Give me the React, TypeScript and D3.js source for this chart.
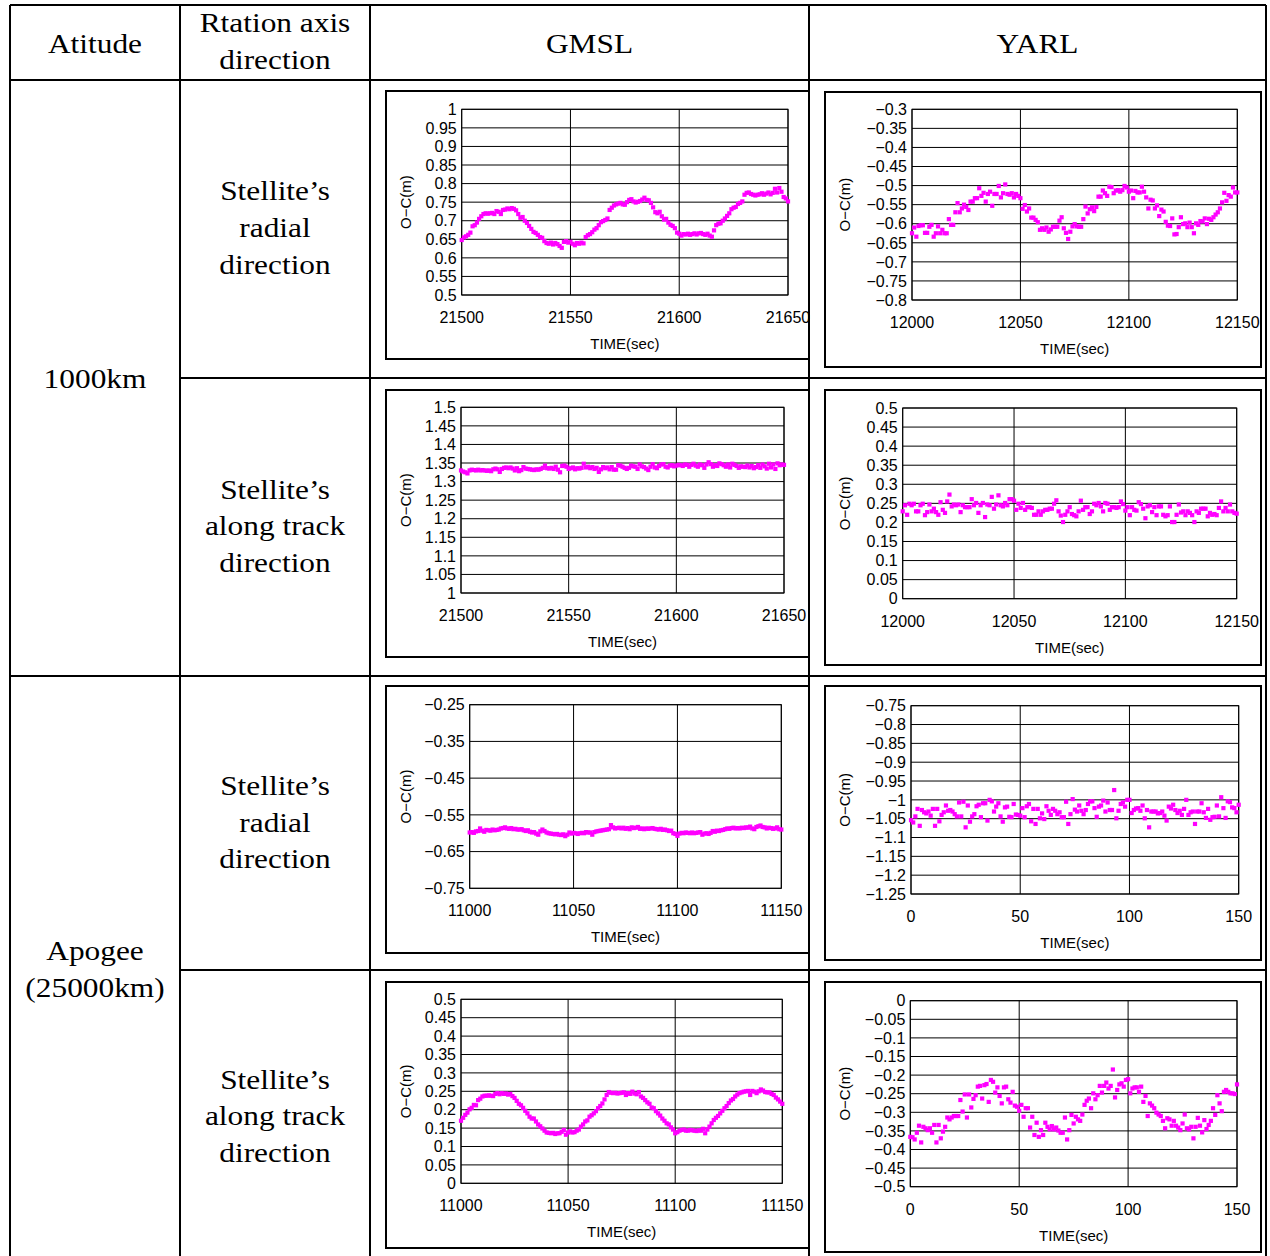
import React from "react";
import * as d3 from "d3";

// ---------- DATA ----------
const gmslRadial1000 = [
  0.648, 0.655, 0.658, 0.662, 0.668, 0.685, 0.688, 0.695, 0.705, 0.712,
  0.718, 0.720, 0.719, 0.720, 0.721, 0.718, 0.726, 0.724, 0.718, 0.729,
  0.730, 0.733, 0.731, 0.734, 0.732, 0.728, 0.718, 0.708, 0.710, 0.700,
  0.694, 0.686, 0.678, 0.670, 0.667, 0.662, 0.656, 0.654, 0.645, 0.640,
  0.638, 0.641, 0.636, 0.640, 0.637, 0.632, 0.627, 0.643, 0.645, 0.641,
  0.643, 0.638, 0.634, 0.640, 0.638, 0.641, 0.639, 0.656, 0.661, 0.664,
  0.669, 0.676, 0.680, 0.688, 0.696, 0.699, 0.702, 0.706, 0.729, 0.735,
  0.741, 0.744, 0.746, 0.748, 0.744, 0.743, 0.750, 0.756, 0.758, 0.752,
  0.749, 0.751, 0.753, 0.757, 0.762, 0.756, 0.755, 0.748, 0.736, 0.723,
  0.720, 0.724, 0.712, 0.703, 0.705, 0.695, 0.689, 0.686, 0.680, 0.668,
  0.665, 0.660, 0.664, 0.663, 0.665, 0.662, 0.664, 0.666, 0.663, 0.666,
  0.667, 0.664, 0.662, 0.665, 0.660, 0.657, 0.674, 0.688, 0.692, 0.693,
  0.700, 0.706, 0.713, 0.720, 0.731, 0.735, 0.737, 0.745, 0.748, 0.752,
  0.770, 0.775, 0.776, 0.772, 0.770, 0.768, 0.770, 0.771, 0.774, 0.770,
  0.773, 0.776, 0.771, 0.775, 0.786, 0.776, 0.788, 0.778, 0.764, 0.760,
  0.752,
];

const yarlRadial1000 = [
  -0.625, -0.610, -0.634, -0.606, -0.604, -0.604, -0.624, -0.624, -0.608, -0.603,
  -0.634, -0.625, -0.607, -0.625, -0.616, -0.625, -0.625, -0.588, -0.603, -0.603,
  -0.570, -0.546, -0.570, -0.560, -0.550, -0.556, -0.564, -0.542, -0.542, -0.533,
  -0.533, -0.507, -0.527, -0.519, -0.542, -0.522, -0.516, -0.553, -0.522, -0.522,
  -0.501, -0.531, -0.520, -0.497, -0.522, -0.524, -0.520, -0.531, -0.522, -0.527,
  -0.533, -0.561, -0.551, -0.568, -0.560, -0.584, -0.584, -0.590, -0.596, -0.616,
  -0.612, -0.616, -0.610, -0.621, -0.615, -0.608, -0.608, -0.608, -0.592, -0.583,
  -0.612, -0.624, -0.640, -0.621, -0.607, -0.601, -0.607, -0.608, -0.608, -0.588,
  -0.555, -0.573, -0.562, -0.557, -0.567, -0.556, -0.529, -0.529, -0.513, -0.520,
  -0.527, -0.503, -0.504, -0.520, -0.513, -0.512, -0.516, -0.512, -0.501, -0.505,
  -0.516, -0.513, -0.533, -0.514, -0.518, -0.518, -0.503, -0.516, -0.531, -0.560,
  -0.537, -0.539, -0.560, -0.552, -0.580, -0.563, -0.568, -0.595, -0.605, -0.606,
  -0.586, -0.628, -0.627, -0.609, -0.583, -0.601, -0.599, -0.609, -0.597, -0.609,
  -0.625, -0.599, -0.603, -0.593, -0.594, -0.586, -0.601, -0.587, -0.590, -0.583,
  -0.576, -0.570, -0.560, -0.544, -0.519, -0.540, -0.525, -0.529, -0.505, -0.518,
  -0.518,
];

const gmslAlong1000 = [
  1.330, 1.327, 1.325, 1.322, 1.330, 1.332, 1.331, 1.330, 1.332, 1.330,
  1.331, 1.330, 1.329, 1.330, 1.328, 1.333, 1.335, 1.333, 1.326, 1.334,
  1.337, 1.338, 1.336, 1.338, 1.335, 1.330, 1.336, 1.328, 1.331, 1.339,
  1.335, 1.334, 1.333, 1.332, 1.331, 1.333, 1.332, 1.334, 1.337, 1.343,
  1.336, 1.335, 1.337, 1.334, 1.340, 1.332, 1.325, 1.342, 1.343, 1.340,
  1.334, 1.336, 1.338, 1.333, 1.336, 1.335, 1.337, 1.348, 1.338, 1.340,
  1.336, 1.339, 1.334, 1.337, 1.326, 1.333, 1.339, 1.336, 1.338, 1.333,
  1.339, 1.332, 1.332, 1.344, 1.343, 1.340, 1.337, 1.334, 1.337, 1.343,
  1.341, 1.340, 1.334, 1.346, 1.341, 1.339, 1.335, 1.331, 1.340, 1.347,
  1.338, 1.336, 1.342, 1.346, 1.347, 1.340, 1.338, 1.343, 1.344, 1.341,
  1.343, 1.345, 1.344, 1.342, 1.346, 1.345, 1.340, 1.345, 1.348, 1.343,
  1.340, 1.346, 1.344, 1.337, 1.346, 1.352, 1.347, 1.340, 1.344, 1.342,
  1.349, 1.347, 1.344, 1.340, 1.346, 1.338, 1.348, 1.345, 1.342, 1.337,
  1.341, 1.340, 1.339, 1.343, 1.338, 1.342, 1.336, 1.339, 1.344, 1.337,
  1.346, 1.341, 1.335, 1.348, 1.338, 1.346, 1.334, 1.349, 1.344, 1.346,
  1.345,
];

const yarlAlong1000 = [
  0.229, 0.245, 0.220, 0.249, 0.245, 0.249, 0.229, 0.229, 0.245, 0.249,
  0.219, 0.227, 0.247, 0.229, 0.236, 0.227, 0.220, 0.253, 0.233, 0.225,
  0.255, 0.273, 0.242, 0.247, 0.245, 0.247, 0.227, 0.245, 0.240, 0.240,
  0.240, 0.261, 0.245, 0.251, 0.225, 0.245, 0.251, 0.214, 0.247, 0.245,
  0.267, 0.236, 0.247, 0.271, 0.245, 0.242, 0.251, 0.245, 0.261, 0.261,
  0.257, 0.233, 0.249, 0.238, 0.251, 0.233, 0.240, 0.240, 0.238, 0.220,
  0.220, 0.229, 0.220, 0.229, 0.233, 0.233, 0.236, 0.236, 0.249, 0.258,
  0.229, 0.218, 0.201, 0.220, 0.229, 0.240, 0.222, 0.219, 0.216, 0.229,
  0.257, 0.233, 0.240, 0.240, 0.222, 0.229, 0.249, 0.245, 0.251, 0.242,
  0.229, 0.251, 0.249, 0.233, 0.240, 0.240, 0.238, 0.240, 0.255, 0.248,
  0.231, 0.240, 0.219, 0.240, 0.233, 0.231, 0.253, 0.248, 0.236, 0.211,
  0.242, 0.245, 0.227, 0.240, 0.219, 0.242, 0.242, 0.220, 0.216, 0.219,
  0.242, 0.201, 0.201, 0.220, 0.247, 0.226, 0.229, 0.219, 0.229, 0.225,
  0.219, 0.201, 0.229, 0.225, 0.236, 0.236, 0.236, 0.216, 0.225, 0.220,
  0.222, 0.219, 0.238, 0.255, 0.229, 0.238, 0.229, 0.247, 0.229, 0.225,
  0.223,
];

const gmslRadialApogee = [
  -0.598, -0.597, -0.599, -0.595, -0.594, -0.587, -0.593, -0.596, -0.591, -0.592,
  -0.593, -0.590, -0.592, -0.591, -0.590, -0.587, -0.586, -0.584, -0.587, -0.588,
  -0.586, -0.589, -0.588, -0.590, -0.590, -0.589, -0.592, -0.594, -0.592, -0.596,
  -0.598, -0.597, -0.601, -0.604, -0.595, -0.590, -0.594, -0.598, -0.600, -0.601,
  -0.602, -0.603, -0.602, -0.604, -0.605, -0.603, -0.608, -0.604, -0.598, -0.601,
  -0.599, -0.600, -0.602, -0.600, -0.599, -0.600, -0.597, -0.598, -0.598, -0.604,
  -0.597, -0.595, -0.594, -0.593, -0.592, -0.591, -0.590, -0.589, -0.578, -0.584,
  -0.587, -0.586, -0.585, -0.587, -0.585, -0.588, -0.586, -0.589, -0.584, -0.586,
  -0.585, -0.583, -0.588, -0.587, -0.589, -0.587, -0.588, -0.587, -0.586, -0.588,
  -0.589, -0.590, -0.588, -0.591, -0.590, -0.592, -0.594, -0.593, -0.600, -0.602,
  -0.607, -0.601, -0.599, -0.600, -0.598, -0.599, -0.600, -0.598, -0.600, -0.599,
  -0.598, -0.597, -0.604, -0.601, -0.600, -0.602, -0.599, -0.594, -0.596, -0.593,
  -0.594, -0.592, -0.591, -0.589, -0.587, -0.588, -0.586, -0.585, -0.587, -0.586,
  -0.587, -0.585, -0.586, -0.584, -0.585, -0.582, -0.587, -0.589, -0.583, -0.581,
  -0.579, -0.583, -0.584, -0.587, -0.585, -0.586, -0.588, -0.587, -0.584, -0.589,
  -0.590,
];

const yarlRadialApogee = [
  -1.054, -1.060, -1.044, -1.024, -1.069, -1.027, -1.033, -1.036, -1.031, -1.042,
  -1.024, -1.069, -1.024, -1.057, -1.040, -1.033, -1.015, -1.029, -1.027, -1.031,
  -1.038, -1.044, -1.007, -1.044, -1.005, -1.073, -1.015, -1.058, -1.044, -1.038,
  -1.017, -1.013, -1.046, -1.009, -1.009, -1.055, -1.000, -1.004, -1.031, -1.018,
  -1.009, -1.044, -1.058, -1.020, -1.018, -1.045, -1.046, -1.011, -1.039, -1.040,
  -1.042, -1.022, -1.046, -1.017, -1.011, -1.057, -1.024, -1.064, -1.024, -1.049,
  -1.036, -1.051, -1.017, -1.029, -1.040, -1.024, -1.029, -1.038, -1.033, -1.046,
  -1.046, -1.005, -1.064, -1.038, -0.998, -1.026, -1.031, -1.015, -1.029, -1.038,
  -1.027, -1.011, -1.004, -1.004, -1.022, -1.045, -1.018, -1.015, -1.002, -1.031,
  -1.007, -1.027, -1.027, -0.974, -1.049, -1.029, -1.011, -1.007, -1.018, -1.000,
  -1.000, -1.035, -1.027, -1.023, -1.022, -1.029, -1.015, -1.049, -1.027, -1.073,
  -1.031, -1.031, -1.031, -1.036, -1.035, -1.031, -1.042, -1.055, -1.018, -1.023,
  -1.013, -1.027, -1.035, -1.029, -1.040, -1.024, -1.000, -1.040, -1.033, -1.031,
  -1.064, -1.031, -1.031, -1.009, -1.033, -1.048, -1.024, -1.053, -1.046, -1.045,
  -1.015, -1.044, -0.993, -1.022, -1.048, -1.004, -1.006, -1.020, -1.022, -1.033,
  -1.013,
];

const gmslAlongApogee = [
  0.170, 0.178, 0.186, 0.192, 0.201, 0.205, 0.213, 0.212, 0.226, 0.230,
  0.236, 0.238, 0.238, 0.239, 0.238, 0.237, 0.243, 0.245, 0.242, 0.245,
  0.243, 0.244, 0.241, 0.243, 0.237, 0.232, 0.224, 0.216, 0.212, 0.205,
  0.197, 0.190, 0.181, 0.176, 0.176, 0.168, 0.160, 0.155, 0.149, 0.143,
  0.138, 0.137, 0.136, 0.137, 0.134, 0.136, 0.136, 0.140, 0.145, 0.132,
  0.138, 0.141, 0.138, 0.139, 0.143, 0.146, 0.154, 0.160, 0.168, 0.171,
  0.181, 0.185, 0.190, 0.196, 0.204, 0.210, 0.217, 0.228, 0.240, 0.248,
  0.246, 0.245, 0.246, 0.244, 0.245, 0.246, 0.247, 0.240, 0.245, 0.243,
  0.249, 0.244, 0.242, 0.248, 0.236, 0.232, 0.226, 0.220, 0.216, 0.206,
  0.204, 0.196, 0.190, 0.184, 0.176, 0.170, 0.163, 0.160, 0.152, 0.146,
  0.136, 0.139, 0.143, 0.145, 0.146, 0.143, 0.143, 0.145, 0.144, 0.143,
  0.142, 0.144, 0.143, 0.148, 0.136, 0.146, 0.154, 0.163, 0.172, 0.178,
  0.183, 0.190, 0.197, 0.204, 0.210, 0.218, 0.225, 0.229, 0.236, 0.241,
  0.245, 0.247, 0.249, 0.250, 0.251, 0.240, 0.251, 0.249, 0.245, 0.250,
  0.255, 0.252, 0.248, 0.247, 0.247, 0.243, 0.240, 0.233, 0.228, 0.222,
  0.216,
];

const yarlAlongApogee = [
  -0.366, -0.367, -0.373, -0.355, -0.336, -0.381, -0.339, -0.343, -0.348, -0.343,
  -0.355, -0.334, -0.381, -0.334, -0.370, -0.352, -0.339, -0.314, -0.319, -0.314,
  -0.310, -0.310, -0.310, -0.267, -0.298, -0.252, -0.314, -0.252, -0.287, -0.264,
  -0.254, -0.231, -0.229, -0.263, -0.227, -0.224, -0.272, -0.213, -0.218, -0.247,
  -0.233, -0.256, -0.276, -0.233, -0.231, -0.265, -0.274, -0.245, -0.282, -0.285,
  -0.296, -0.280, -0.312, -0.289, -0.289, -0.341, -0.312, -0.361, -0.328, -0.366,
  -0.348, -0.361, -0.328, -0.339, -0.346, -0.337, -0.346, -0.341, -0.349, -0.355,
  -0.355, -0.314, -0.373, -0.348, -0.307, -0.330, -0.312, -0.319, -0.323, -0.306,
  -0.280, -0.269, -0.263, -0.289, -0.249, -0.265, -0.254, -0.229, -0.247, -0.229,
  -0.220, -0.236, -0.229, -0.185, -0.260, -0.240, -0.225, -0.222, -0.231, -0.213,
  -0.211, -0.249, -0.236, -0.233, -0.233, -0.245, -0.231, -0.272, -0.256, -0.310,
  -0.276, -0.282, -0.289, -0.301, -0.306, -0.310, -0.323, -0.343, -0.316, -0.319,
  -0.336, -0.323, -0.336, -0.341, -0.348, -0.330, -0.306, -0.343, -0.346, -0.339,
  -0.370, -0.339, -0.315, -0.336, -0.354, -0.321, -0.345, -0.334, -0.323, -0.289,
  -0.307, -0.254, -0.276, -0.297, -0.245, -0.240, -0.245, -0.249, -0.249, -0.251,
  -0.225,
];

// tick labels
const xTicks21500 = [21500, 21550, 21600, 21650];
const xTicks12000 = [12000, 12050, 12100, 12150];
const xTicks11000 = [11000, 11050, 11100, 11150];
const xTicks0 = [0, 50, 100, 150];
const yTicksGR1 = [0.5, 0.55, 0.6, 0.65, 0.7, 0.75, 0.8, 0.85, 0.9, 0.95, 1];
const yTicksYR1 = [-0.8, -0.75, -0.7, -0.65, -0.6, -0.55, -0.5, -0.45, -0.4, -0.35, -0.3];
const yTicksGA1 = [1, 1.05, 1.1, 1.15, 1.2, 1.25, 1.3, 1.35, 1.4, 1.45, 1.5];
const yTicksYA1 = [0, 0.05, 0.1, 0.15, 0.2, 0.25, 0.3, 0.35, 0.4, 0.45, 0.5];
const yTicksGR2 = [-0.75, -0.65, -0.55, -0.45, -0.35, -0.25];
const yTicksYR2 = [-1.25, -1.2, -1.15, -1.1, -1.05, -1, -0.95, -0.9, -0.85, -0.8, -0.75];
const yTicksGA2 = [0, 0.05, 0.1, 0.15, 0.2, 0.25, 0.3, 0.35, 0.4, 0.45, 0.5];
const yTicksYA2 = [-0.5, -0.45, -0.4, -0.35, -0.3, -0.25, -0.2, -0.15, -0.1, -0.05, 0];

const headers = ["Atitude", "GMSL", "YARL"];
const axisHeader = ["Rtation axis", "direction"];
const rowLabels = [
  ["Stellite\u2019s", "radial", "direction"],
  ["Stellite\u2019s", "along track", "direction"],
  ["Stellite\u2019s", "radial", "direction"],
  ["Stellite\u2019s", "along track", "direction"],
];
const altitudes = [["1000km"], ["Apogee", "(25000km)"]];

// ---------- LAYOUT ----------
const charts = [
  { box: [386, 91, 809, 359], plot: [461.7, 109.3, 788, 295], values: gmslRadial1000, x0: 21500, xTicks: xTicks21500, yTicks: yTicksGR1 },
  { box: [825, 92, 1261, 367], plot: [912, 109.3, 1237.3, 300], values: yarlRadial1000, x0: 12000, xTicks: xTicks12000, yTicks: yTicksYR1 },
  { box: [386, 390, 809, 657], plot: [461, 407.3, 784, 593], values: gmslAlong1000, x0: 21500, xTicks: xTicks21500, yTicks: yTicksGA1 },
  { box: [825, 390, 1261, 665], plot: [902.7, 408, 1236.7, 598.7], values: yarlAlong1000, x0: 12000, xTicks: xTicks12000, yTicks: yTicksYA1 },
  { box: [386, 686, 809, 953], plot: [469.7, 704.7, 781.3, 888.3], values: gmslRadialApogee, x0: 11000, xTicks: xTicks11000, yTicks: yTicksGR2 },
  { box: [825, 686, 1261, 960], plot: [911, 705.7, 1238.7, 894], values: yarlRadialApogee, x0: 0, xTicks: xTicks0, yTicks: yTicksYR2 },
  { box: [386, 982, 809, 1248], plot: [461, 999.3, 782.3, 1183.3], values: gmslAlongApogee, x0: 11000, xTicks: xTicks11000, yTicks: yTicksGA2 },
  { box: [825, 982, 1261, 1252], plot: [910.3, 1000.7, 1237, 1186.7], values: yarlAlongApogee, x0: 0, xTicks: xTicks0, yTicks: yTicksYA2 },
];

const SANS = "'Liberation Sans', Arial, sans-serif";
const SERIF = "'Liberation Serif', 'Times New Roman', serif";
const fmt = (v: number) => String(Math.round(v * 1000) / 1000).replace("-", "\u2212");

function Chart({ cfg }: { cfg: any }) {
  const [bx0, by0, bx1, by1] = cfg.box;
  const [pl, pt, pr, pb] = cfg.plot;
  const xt: number[] = cfg.xTicks;
  const yt: number[] = cfg.yTicks;
  const x = d3.scaleLinear().domain([xt[0], xt[xt.length - 1]]).range([pl, pr]);
  const y = d3.scaleLinear().domain([yt[0], yt[yt.length - 1]]).range([pb, pt]);
  const ms = 4.2;
  return (
    <g>
      <rect x={bx0} y={by0} width={bx1 - bx0} height={by1 - by0} fill="#fff" stroke="#000" strokeWidth={2} />
      <rect x={pl} y={pt} width={pr - pl} height={pb - pt} fill="#fff" stroke="#000" strokeWidth={1} />
      {yt.map((v, i) => (
        <line key={"h" + i} x1={pl} x2={pr} y1={y(v)} y2={y(v)} stroke="#000" strokeWidth={1} />
      ))}
      {xt.map((v, i) => (
        <line key={"v" + i} x1={x(v)} x2={x(v)} y1={pt} y2={pb} stroke="#000" strokeWidth={1} />
      ))}
      {yt.map((v, i) => (
        <text key={"yl" + i} x={pl - 5} y={y(v)} dy="0.36em" textAnchor="end" fontFamily={SANS} fontSize={16} fill="#000">
          {fmt(v)}
        </text>
      ))}
      {xt.map((v, i) => (
        <text key={"xl" + i} x={x(v)} y={pb + 28} textAnchor="middle" fontFamily={SANS} fontSize={16} fill="#000">
          {fmt(v)}
        </text>
      ))}
      {cfg.values.map((v: number, i: number) => (
        <rect key={"p" + i} x={x(cfg.x0 + i) - ms / 2} y={y(v) - ms / 2} width={ms} height={ms} fill="#FF00FF" />
      ))}
      <text x={(pl + pr) / 2} y={pb + 54} textAnchor="middle" fontFamily={SANS} fontSize={15} fill="#000">
        TIME(sec)
      </text>
      <text
        transform={`translate(${bx0 + 20},${(pt + pb) / 2}) rotate(-90)`}
        dy="0.36em"
        textAnchor="middle"
        fontFamily={SANS}
        fontSize={15}
        fill="#000"
      >
        O{"\u2212"}C(m)
      </text>
    </g>
  );
}

function T({ x, y, children }: { x: number; y: number; children: any }) {
  return (
    <text transform={`translate(${x},${y}) scale(1.12,1)`} textAnchor="middle" fontFamily={SERIF} fontSize={28} fill="#000">
      {children}
    </text>
  );
}

export default function App() {
  const colX = [10, 180, 370, 809, 1266];
  const rowY = [5, 80, 378, 676, 970, 1256];
  const rowBaselines = [
    [200, 237, 274],
    [499, 535, 572],
    [795, 832, 868],
    [1089, 1125, 1162],
  ];
  return (
    <svg width={1270} height={1256} style={{ position: "absolute", left: 0, top: 0, background: "#fff" }}>
      <rect x={0} y={0} width={1270} height={1256} fill="#fff" />
      {charts.map((c, i) => (
        <Chart key={i} cfg={c} />
      ))}
      {/* table lines */}
      <g stroke="#000" strokeWidth={2}>
        {colX.map((cx, i) => (
          <line key={"c" + i} x1={cx} x2={cx} y1={rowY[0]} y2={rowY[5]} />
        ))}
        <line x1={colX[0]} x2={colX[4]} y1={rowY[0]} y2={rowY[0]} />
        <line x1={colX[0]} x2={colX[4]} y1={rowY[1]} y2={rowY[1]} />
        <line x1={colX[1]} x2={colX[4]} y1={rowY[2]} y2={rowY[2]} />
        <line x1={colX[0]} x2={colX[4]} y1={rowY[3]} y2={rowY[3]} />
        <line x1={colX[1]} x2={colX[4]} y1={rowY[4]} y2={rowY[4]} />
      </g>
      <T x={95} y={53}>{headers[0]}</T>
      <T x={275} y={32}>{axisHeader[0]}</T>
      <T x={275} y={69}>{axisHeader[1]}</T>
      <T x={589.5} y={53}>{headers[1]}</T>
      <T x={1037.5} y={53}>{headers[2]}</T>
      <T x={95} y={388}>{altitudes[0][0]}</T>
      <T x={95} y={960}>{altitudes[1][0]}</T>
      <T x={95} y={997}>{altitudes[1][1]}</T>
      {rowLabels.map((lines, r) =>
        lines.map((s, k) => (
          <T key={r + "-" + k} x={275} y={rowBaselines[r][k]}>
            {s}
          </T>
        ))
      )}
    </svg>
  );
}
